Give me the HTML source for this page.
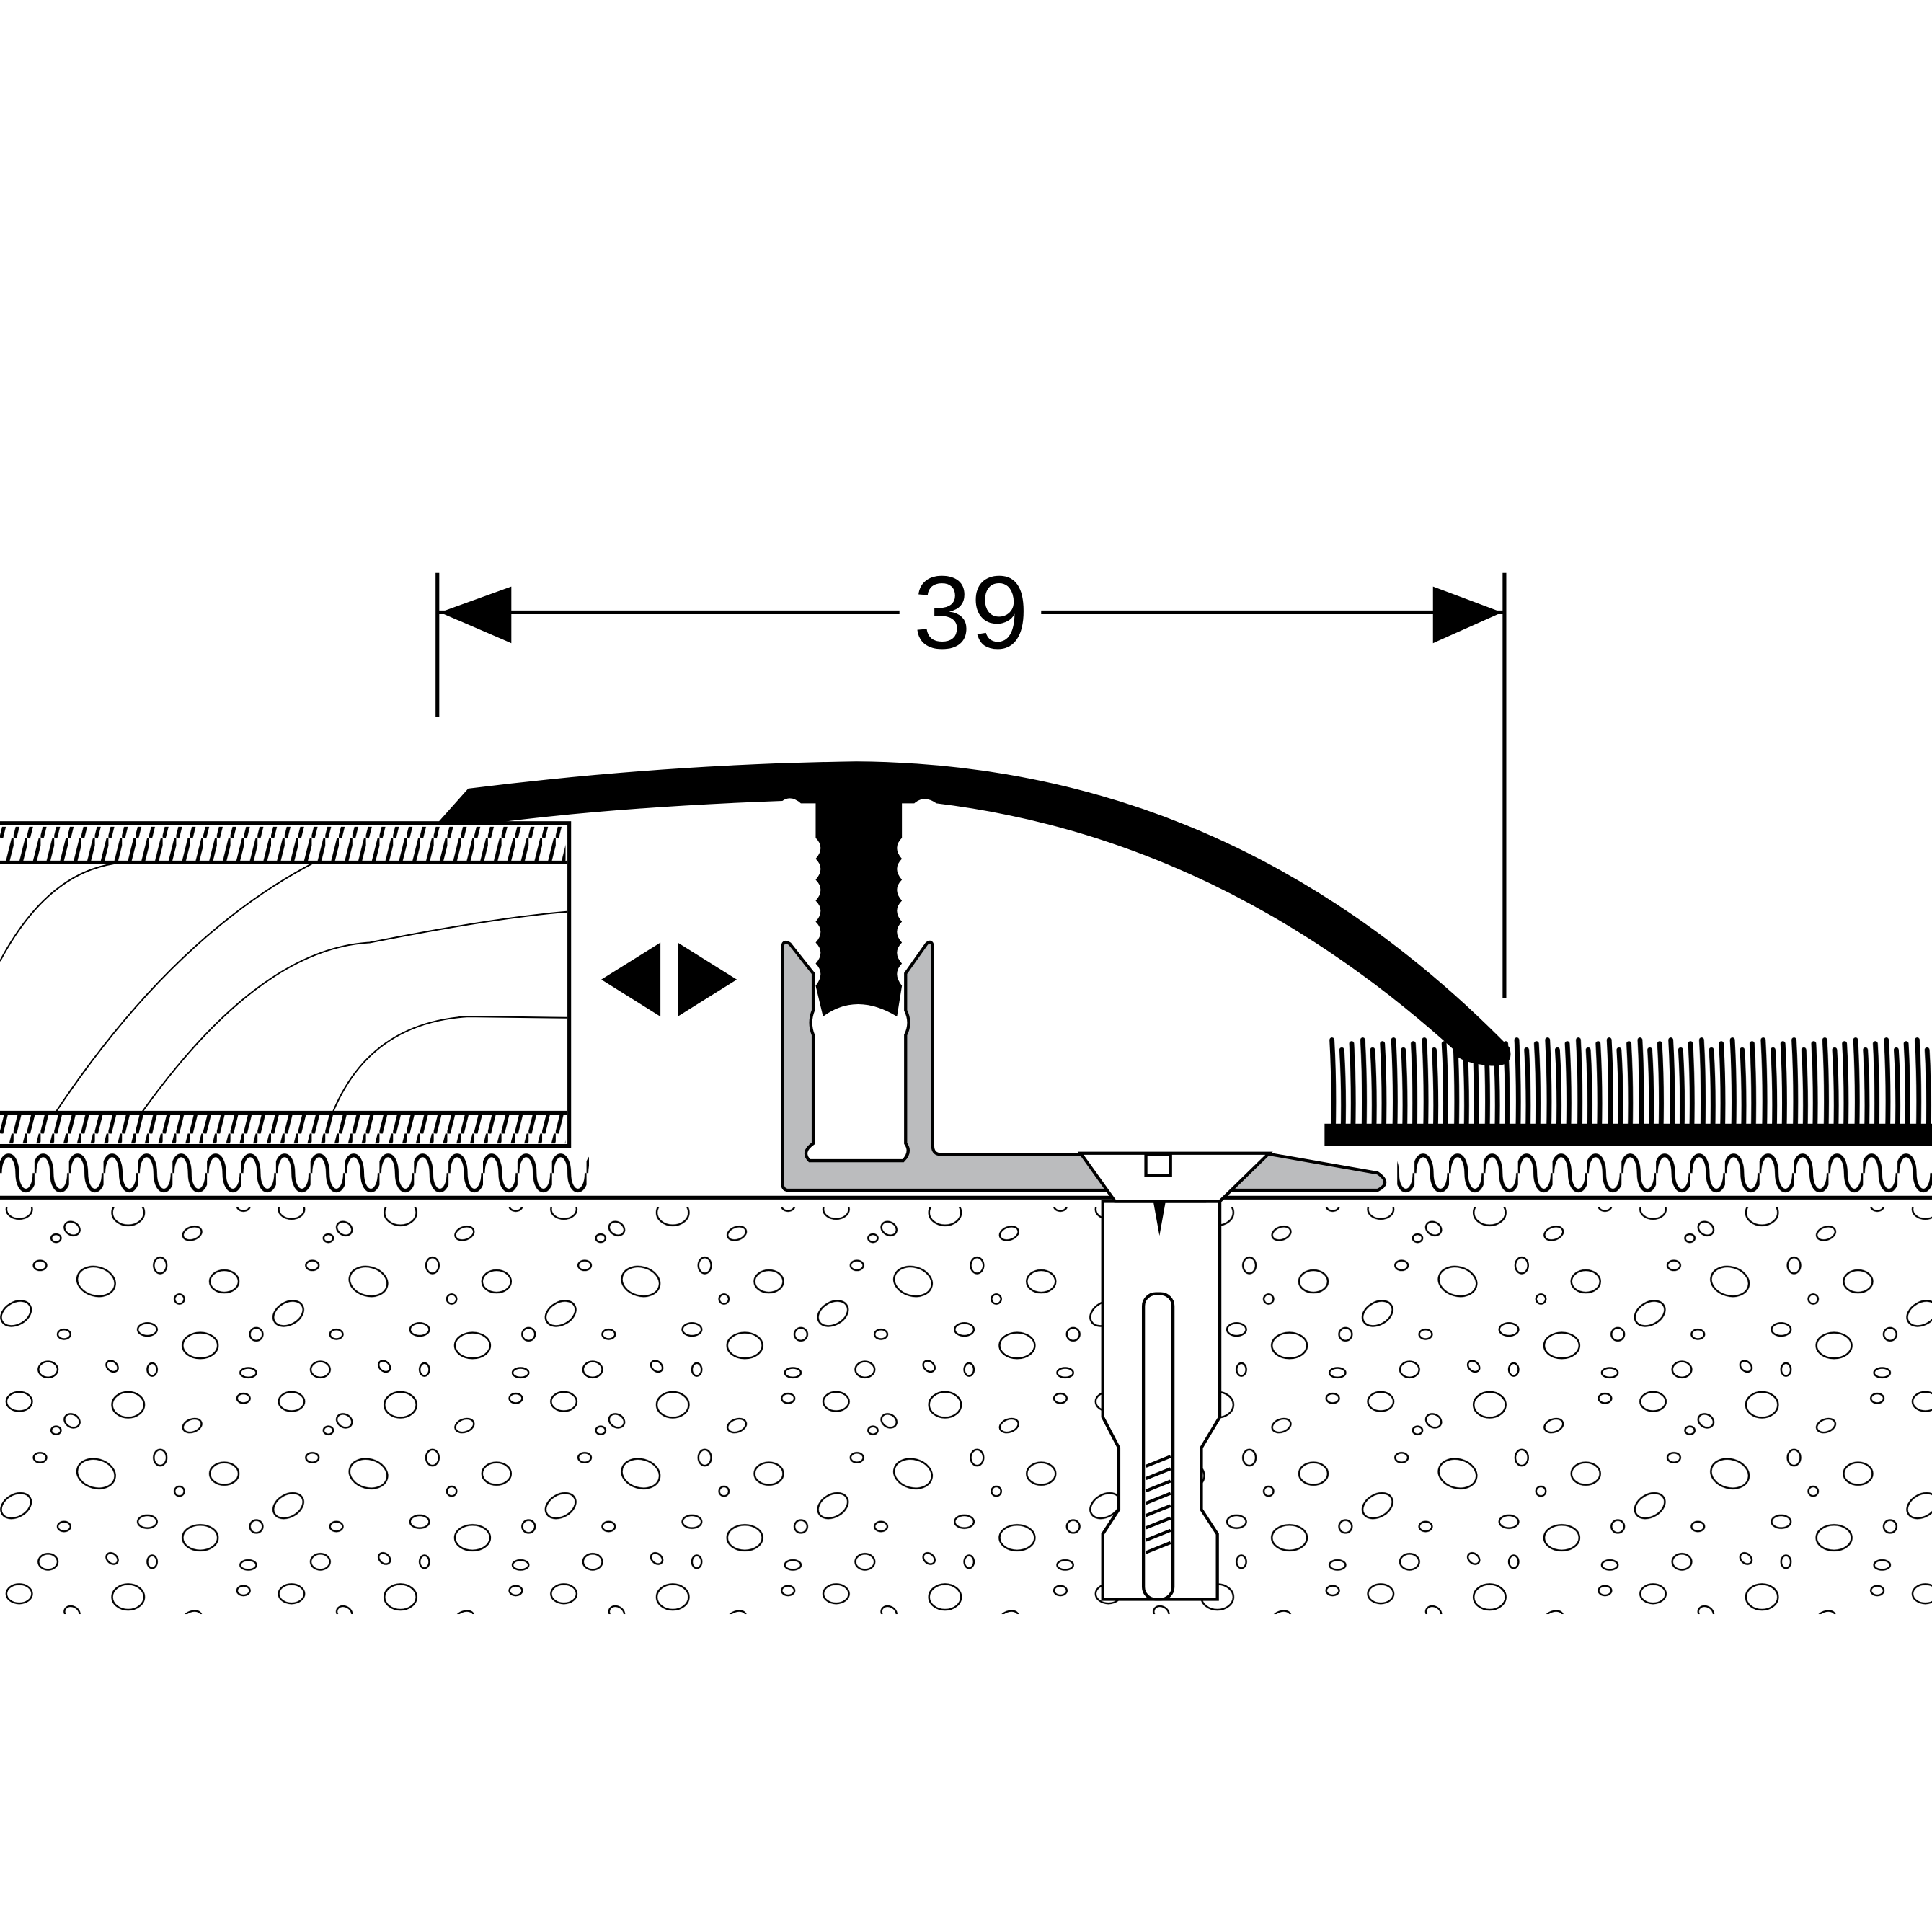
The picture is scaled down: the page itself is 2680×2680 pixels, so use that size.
<!DOCTYPE html>
<html><head><meta charset="utf-8"><style>html,body{margin:0;padding:0;background:#fff}svg{display:block}</style></head>
<body>
<svg width="2680" height="2680" viewBox="0 0 1568 1568" xmlns="http://www.w3.org/2000/svg">
<defs>
<pattern id="peb" x="0" y="985" width="170" height="120" patternUnits="userSpaceOnUse" patternTransform="scale(1.3)">
<g fill="#fff" stroke="#000" stroke-width="1.1">
<ellipse cx="12" cy="10" rx="8" ry="6"/>
<ellipse cx="45" cy="22" rx="5" ry="4" transform="rotate(30 45 22)"/>
<ellipse cx="80" cy="12" rx="10" ry="8"/>
<ellipse cx="120" cy="25" rx="6" ry="4" transform="rotate(-20 120 25)"/>
<ellipse cx="152" cy="8" rx="4" ry="3"/>
<ellipse cx="25" cy="45" rx="4" ry="3"/>
<ellipse cx="60" cy="55" rx="12" ry="9" transform="rotate(15 60 55)"/>
<ellipse cx="100" cy="45" rx="4" ry="5"/>
<ellipse cx="140" cy="55" rx="9" ry="7"/>
<ellipse cx="10" cy="75" rx="10" ry="7" transform="rotate(-30 10 75)"/>
<ellipse cx="40" cy="88" rx="4" ry="3"/>
<ellipse cx="92" cy="85" rx="6" ry="4"/>
<ellipse cx="125" cy="95" rx="11" ry="8"/>
<ellipse cx="160" cy="88" rx="4" ry="4"/>
<ellipse cx="30" cy="110" rx="6" ry="5"/>
<ellipse cx="70" cy="108" rx="4" ry="3" transform="rotate(40 70 108)"/>
<ellipse cx="112" cy="66" rx="3" ry="3"/>
<ellipse cx="155" cy="112" rx="5" ry="3"/>
<ellipse cx="95" cy="110" rx="3" ry="4"/>
<ellipse cx="35" cy="28" rx="3" ry="2.5"/>
</g>
</pattern>
<pattern id="hatch" x="0" y="0" width="11" height="40" patternUnits="userSpaceOnUse">
<line x1="1" y1="40" x2="11" y2="0" stroke="#000" stroke-width="3"/>
</pattern>
<pattern id="wave" x="0" y="932" width="28" height="40" patternUnits="userSpaceOnUse">
<path d="M0 20 C0 1 14 1 14 20 C14 39 28 39 28 20" fill="none" stroke="#000" stroke-width="3"/>
</pattern>
<pattern id="carp" x="1078" y="830" width="25" height="90" patternUnits="userSpaceOnUse">
<g stroke="#000" stroke-width="4" stroke-linecap="round" fill="none">
<path d="M3 14 Q5 50 4 90"/>
<path d="M11 22 Q13 55 12 90"/>
<path d="M19 17 Q21 52 20 90"/>
</g>
</pattern>
</defs>
<rect width="1568" height="1568" fill="#fff"/>
<rect x="0" y="980" width="1568" height="330" fill="url(#peb)"/>
<line x1="0" y1="972" x2="1568" y2="972" stroke="#000" stroke-width="3"/>
<g stroke="#000" stroke-width="2.5" fill="#fff">
<path d="M895 975 H990 V1150 L975 1175 V1225 L988 1245 V1298 H895 V1245 L908 1225 V1175 L895 1150 Z"/>
<rect x="928" y="1050" width="24" height="248" rx="10"/>
</g>
<g stroke="#000" stroke-width="2.5">
<line x1="930" y1="1190" x2="950" y2="1182"/><line x1="930" y1="1200" x2="950" y2="1192"/><line x1="930" y1="1210" x2="950" y2="1202"/><line x1="930" y1="1220" x2="950" y2="1212"/><line x1="930" y1="1230" x2="950" y2="1222"/><line x1="930" y1="1240" x2="950" y2="1232"/><line x1="930" y1="1250" x2="950" y2="1242"/><line x1="930" y1="1260" x2="950" y2="1252"/>
</g>
<path d="M936 975 L941 1003 L946 975 Z" fill="#000"/>
<rect x="-5" y="668" width="467" height="262" fill="#fff" stroke="#000" stroke-width="3"/>
<rect x="0" y="671" width="459" height="28" fill="url(#hatch)"/>
<rect x="0" y="904" width="459" height="24" fill="url(#hatch)"/>
<g stroke="#000" fill="none">
<line x1="0" y1="700" x2="460" y2="700" stroke-width="3"/>
<line x1="0" y1="903" x2="460" y2="903" stroke-width="3"/>
<path d="M0 780 Q40 705 100 700" stroke-width="1.2"/>
<path d="M45 903 Q140 760 255 700" stroke-width="1.2"/>
<path d="M115 903 Q210 770 300 765 Q400 745 460 740" stroke-width="1.2"/>
<path d="M270 903 Q300 830 380 825 L460 826" stroke-width="1.2"/>
</g>
<rect x="0" y="932" width="478" height="40" fill="url(#wave)"/>
<rect x="1134" y="932" width="434" height="40" fill="url(#wave)"/>
<path d="M488 795 L536 765 V825 Z M598 795 L550 765 V825 Z" fill="#000"/>
<path d="M635 770 Q635 762 641 766 L660 790 V820 Q656 830 660 840 V928 Q650 935 657 942 H733 Q740 935 735 928 V840 Q740 830 735 820 V790 L752 766 Q757 762 757 770 V930 Q757 937 764 937 H880 L905 975 H978 L990 937 H1032 L1118 952 Q1130 960 1118 966 H640 Q635 966 635 960 Z" fill="#bbbcbe" stroke="#000" stroke-width="2.5"/>
<path d="M877 936 H1030 L990 975 H905 Z" fill="#fff" stroke="#000" stroke-width="2.5"/>
<rect x="930" y="937" width="20" height="17" fill="#fff" stroke="#000" stroke-width="2.5"/>
<path d="M355 668 L380 640 Q540 620 695 618 Q1000 620 1225 850 Q1230 866 1210 865 Q1180 862 1180 852 Q990 680 760 652 Q750 645 742 652 H732 V680 Q724 688 732 697 Q724 705 732 714 Q724 722 732 731 Q724 739 732 748 Q724 756 732 765 Q724 773 732 782 Q724 790 732 800 L728 825 Q695 805 668 825 L662 800 Q670 790 662 782 Q670 773 662 765 Q670 756 662 748 Q670 739 662 731 Q670 722 662 714 Q670 705 662 697 Q670 688 662 680 V652 H650 Q642 645 635 650 Q500 655 400 668 Z" fill="#000"/>
<g stroke="#000" stroke-width="3">
<line x1="355" y1="465" x2="355" y2="582"/>
<line x1="1221" y1="465" x2="1221" y2="810"/>
<line x1="355" y1="497" x2="730" y2="497"/>
<line x1="845" y1="497" x2="1221" y2="497"/>
</g>
<path d="M357 497 L415 476 V522 Z M1219 497 L1163 476 V522 Z" fill="#000"/>
<text x="788" y="526" font-family="Liberation Sans, sans-serif" font-size="84" text-anchor="middle" fill="#000">39</text>
<rect x="1076" y="838" width="492" height="78" fill="url(#carp)"/>
<rect x="1075" y="912" width="493" height="18" fill="#000"/>
</svg>
</body></html>
